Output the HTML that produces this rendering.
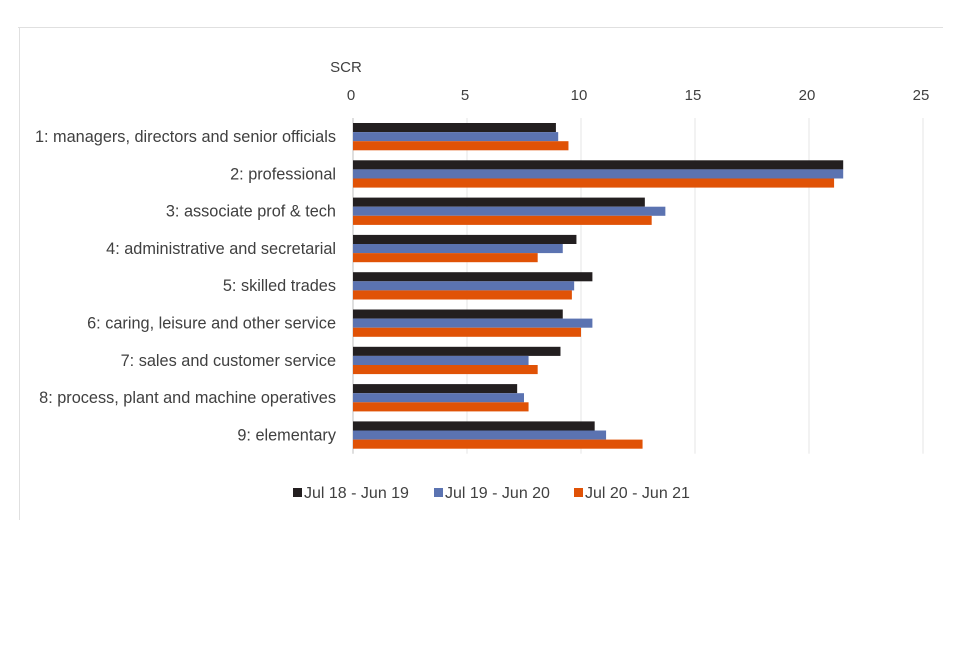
<!DOCTYPE html>
<html><head><meta charset="utf-8"><style>
body{margin:0;background:#fff;width:960px;height:640px;overflow:hidden}
svg text{font-family:"Liberation Sans",sans-serif;fill:#404040}
</style></head><body>
<svg width="960" height="640">
<line x1="18" y1="27.5" x2="943" y2="27.5" stroke="#e0e0e0"/>
<line x1="19.5" y1="27" x2="19.5" y2="520" stroke="#e0e0e0"/>
<text x="346" y="72" font-size="15" text-anchor="middle">SCR</text>
<g id="grid"></g><g id="bars"></g><g id="labels"></g><g id="legend"></g>
</svg>
<script>
const categories=["1: managers, directors and senior officials","2: professional","3: associate prof & tech","4: administrative and secretarial","5: skilled trades","6: caring, leisure and other service","7: sales and customer service","8: process, plant and machine operatives","9: elementary"];
const seriesNames=["Jul 18 - Jun 19","Jul 19 - Jun 20","Jul 20 - Jun 21"];
const s1=[8.9,21.5,12.8,9.8,10.5,9.2,9.1,7.2,10.6];
const s2=[9.0,21.5,13.7,9.2,9.7,10.5,7.7,7.5,11.1];
const s3=[9.45,21.1,13.1,8.1,9.6,10.0,8.1,7.7,12.7];
const ticks=[0,5,10,15,20,25];
const colors=["#231f20","#5b73b1","#e05206"];
const NS="http://www.w3.org/2000/svg";
const x=v=>353+v*22.8;
const y0=118,pitch=37.3;
function mk(t,a,p){const e=document.createElementNS(NS,t);for(const k in a)e.setAttribute(k,a[k]);p.appendChild(e);return e;}
const g=document.getElementById('grid');
ticks.forEach(t=>{
 const l=mk('line',{x1:x(t),x2:x(t),y1:y0,y2:y0+pitch*9,stroke:t==0?'#bfbfbf':'#e6e6e6'},g);
 
 
 const tx=mk('text',{x:x(t)-2,y:100,'font-size':15,'text-anchor':'middle'},g);tx.textContent=t;
 
 
});
const b=document.getElementById('bars'),lb=document.getElementById('labels');
const series=[s1,s2,s3];
categories.forEach((c,i)=>{
 const top=y0+i*pitch+5;
 series.forEach((s,j)=>{
  const r=mk('rect',{x:x(0),y:top+j*9.1,width:x(s[i])-x(0),height:9.1,fill:colors[j]},b);
  
  
 });
 const t=mk('text',{x:336,y:top+19,'font-size':16.3,'text-anchor':'end'},lb);t.textContent=c;
 
 
});
const lg=document.getElementById('legend');
const lx=[293,434,574];
seriesNames.forEach((n,j)=>{
 const r=mk('rect',{x:lx[j],y:488,width:9,height:9,fill:colors[j]},lg);
 
 
 const t=mk('text',{x:lx[j]+11,y:498,'font-size':16},lg);t.textContent=n;
 
 
});
</script>
</body></html>
